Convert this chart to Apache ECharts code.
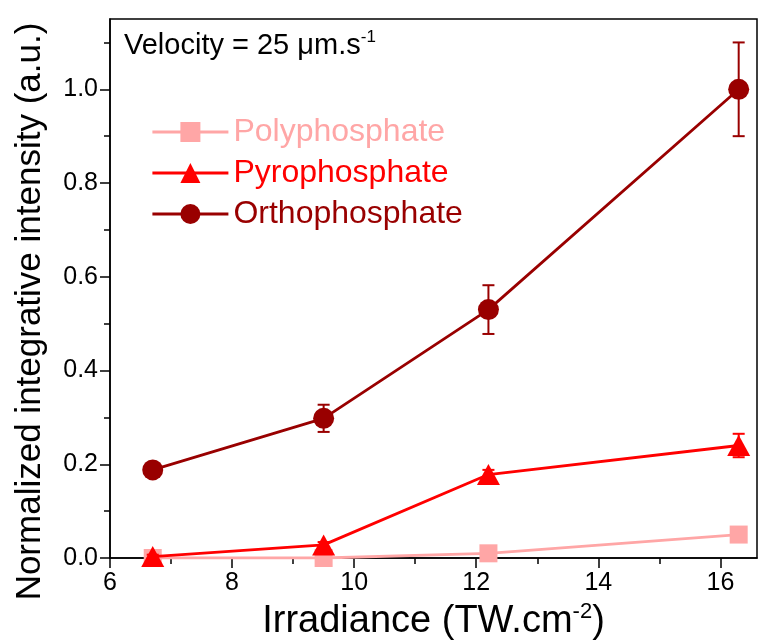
<!DOCTYPE html>
<html><head><meta charset="utf-8">
<script src="https://cdn.jsdelivr.net/npm/echarts@6/dist/echarts.min.js"></script>
<style>html,body{margin:0;padding:0;background:#fff}#c{width:771px;height:642px}</style>
</head><body><div id="c"></div>
<script>
const irradiance = [6.7, 9.5, 12.2, 16.3];
const poly = [0.0, 0.0, 0.01, 0.05];
const pyro = [0.003, 0.028, 0.178, 0.24];
const pyroErr = [0.004, 0.006, 0.01, 0.025];
const ortho = [0.188, 0.298, 0.53, 1.0];
const orthoErr = [0.006, 0.029, 0.052, 0.1];
const xTicks = [6, 8, 10, 12, 14, 16];
const xMinor = [7, 9, 11, 13, 15];
const yTicks = [0, 0.2, 0.4, 0.6, 0.8, 1.0];
const yMinor = [0.1, 0.3, 0.5, 0.7, 0.9, 1.1];

const FONT = 'Liberation Sans, Arial, sans-serif';
const C_POLY = '#FFA6A6', C_PYRO = '#FF0000', C_ORTHO = '#990000';

const chart = echarts.init(document.getElementById('c'));
const pts = arr => irradiance.map((x, i) => [x, arr[i]]);
const errPts = (arr, err) => irradiance.map((x, i) => [x, arr[i], err[i]]);

function errRender(color) {
  return function (params, api) {
    const x = api.value(0), y = api.value(1), e = api.value(2);
    const t = api.coord([x, y + e]), b = api.coord([x, y - e]);
    const w = 6;
    const st = { stroke: color, lineWidth: 2 };
    return { type: 'group', children: [
      { type: 'line', shape: { x1: t[0], y1: t[1], x2: b[0], y2: b[1] }, style: st },
      { type: 'line', shape: { x1: t[0] - w, y1: t[1], x2: t[0] + w, y2: t[1] }, style: st },
      { type: 'line', shape: { x1: b[0] - w, y1: b[1], x2: b[0] + w, y2: b[1] }, style: st }
    ]};
  };
}

const axisLineStyle = { color: '#000', width: 1.5 };
const supRich = (base, sup) => ({
  b: { fontSize: base, fontFamily: FONT, fontWeight: 'normal', color: '#000', lineHeight: base + 4 },
  sup: { fontSize: sup, fontFamily: FONT, fontWeight: 'normal', color: '#000', verticalAlign: 'top' }
});

chart.setOption({
  animation: false,
  backgroundColor: '#fff',
  title: {
    text: '{b|Velocity = 25 μm.s}{sup|-1}',
    left: 119, top: 24,
    textStyle: { fontWeight: 'normal', rich: supRich(29, 17) }
  },
  legend: {
    orient: 'vertical', left: 146, top: 111,
    itemWidth: 76, itemHeight: 25, itemGap: 9,
    lineStyle: { width: 2.8 },
    textStyle: { fontSize: 32, fontFamily: FONT },
    data: [
      { name: 'Polyphosphate', textStyle: { color: C_POLY } },
      { name: 'Pyrophosphate', textStyle: { color: C_PYRO } },
      { name: 'Orthophosphate', textStyle: { color: C_ORTHO } }
    ]
  },
  grid: { left: 110, right: 14, top: 19, bottom: 84, show: true, borderColor: '#000', borderWidth: 1.5,
    backgroundColor: 'transparent', outerBoundsMode: 'none', containLabel: false },
  xAxis: [{
    type: 'value', min: 6, max: 16.6, position: 'bottom',
    axisLine: { lineStyle: axisLineStyle },
    axisTick: { customValues: xTicks, length: 10, lineStyle: { color: '#000', width: 1.5 } },
    axisLabel: { customValues: xTicks, fontSize: 25, fontFamily: FONT, color: '#000', margin: 13 },
    splitLine: { show: false },
    name: '{b|Irradiance (TW.cm}{sup|-2}{b|)}', nameLocation: 'middle', nameGap: 36,
    nameTextStyle: { rich: supRich(38, 22) }
  }, {
    type: 'value', min: 6, max: 16.6, position: 'bottom',
    axisLine: { show: false },
    axisTick: { customValues: xMinor, length: 6, lineStyle: { color: '#000', width: 1.5 } },
    axisLabel: { show: false }, splitLine: { show: false }
  }],
  yAxis: [{
    type: 'value', min: 0, max: 1.15, position: 'left',
    axisLine: { show: true, lineStyle: axisLineStyle },
    axisTick: { show: true, customValues: yTicks, length: 10, lineStyle: { color: '#000', width: 1.5 } },
    axisLabel: { customValues: yTicks, fontSize: 25, fontFamily: FONT, color: '#000', margin: 12,
      formatter: v => v.toFixed(1) },
    splitLine: { show: false },
    name: 'Normalized integrative intensity (a.u.)', nameLocation: 'middle', nameGap: 62,
    nameTextStyle: { fontSize: 35, fontFamily: FONT, color: '#000', padding: [0, 46, 0, 0] }
  }, {
    type: 'value', min: 0, max: 1.15, position: 'left',
    axisLine: { show: false },
    axisTick: { show: true, customValues: yMinor, length: 6, lineStyle: { color: '#000', width: 1.5 } },
    axisLabel: { show: false }, splitLine: { show: false }
  }],
  series: [
    { name: 'Polyphosphate', type: 'line', data: pts(poly), symbol: 'rect', symbolSize: 18,
      itemStyle: { color: C_POLY }, lineStyle: { color: C_POLY, width: 2.8 }, z: 3 },
    { name: 'Pyrophosphate', type: 'line', data: pts(pyro), symbol: 'triangle', symbolSize: [23, 21],
      itemStyle: { color: C_PYRO }, lineStyle: { color: C_PYRO, width: 2.8 }, z: 4 },
    { name: 'Orthophosphate', type: 'line', data: pts(ortho), symbol: 'circle', symbolSize: 21,
      itemStyle: { color: C_ORTHO }, lineStyle: { color: C_ORTHO, width: 2.8 }, z: 5 },
    { type: 'custom', data: errPts(pyro, pyroErr), renderItem: errRender(C_PYRO), z: 4 },
    { type: 'custom', data: errPts(ortho, orthoErr), renderItem: errRender(C_ORTHO), z: 5 }
  ]
});
</script></body></html>
